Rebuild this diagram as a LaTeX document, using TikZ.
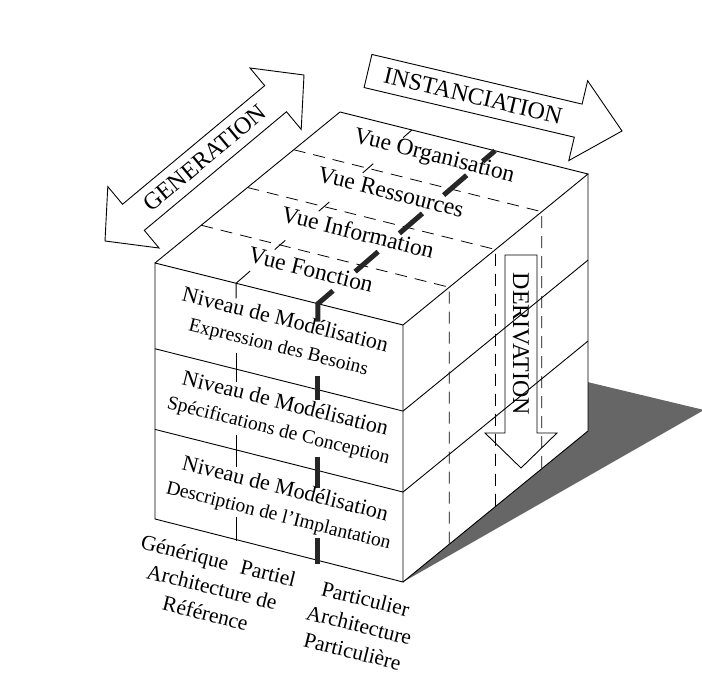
\documentclass[tikz,border=0pt]{standalone}
\usepackage{fontspec}
\setmainfont{Liberation Serif}
\usetikzlibrary{calc}

\newcommand{\sublevel}{\fontsize{19.5}{27}\selectfont}

\begin{document}
\begin{tikzpicture}[
    x=1pt, y=-1pt,
    line join=miter,
    cubeedge/.style={line width=0.9pt},
    viewline/.style={line width=0.8pt, dash pattern=on 12pt off 8pt},
    thintick/.style={line width=0.9pt},
    thickbar/.style={line width=5pt, black!85},
    facelabel/.style={font=\fontsize{22}{27}\selectfont, align=center, rotate=-14, inner sep=0pt},
    viewlabel/.style={facelabel, font=\fontsize{23.5}{27}\selectfont},
    arrowlabel/.style={font=\fontsize{24}{26}\selectfont, inner sep=0pt},
    blockarrow/.style={draw, line width=0.9pt}
]
\useasboundingbox (0,0) rectangle (702,695);

% -------------------------
% CUBE CORNERS
% -------------------------
\coordinate (ftl) at (155,263);
\coordinate (ftr) at (403,325);
\coordinate (fbr) at (403,582);
\coordinate (fbl) at (155,519);
\coordinate (btl) at (340,112);
\coordinate (btr) at (588,174);
\coordinate (bbr) at (588,431);

% shadow behind the right face
\coordinate (shadowTop) at ($(btr)!0.81!(bbr)$);
\coordinate (shadowTip) at (704,410);
\fill[black!60] (shadowTop) -- (shadowTip) -- (fbr) -- (bbr) -- cycle;

% -------------------------
% VIEWS (dashed layers)
% -------------------------
\foreach \t in {0.25,0.5,0.75}
  \draw[viewline] ($(ftl)!\t!(btl)$) -- ($(ftr)!\t!(btr)$) -- ($(fbr)!\t!(bbr)$);

% -------------------------
% EDGES AND LEVELS
% -------------------------
\draw[cubeedge] (ftl) -- (ftr) -- (fbr) -- (fbl) -- cycle;
\draw[cubeedge] (ftl) -- (btl) -- (btr) -- (ftr);
\draw[cubeedge] (btr) -- (bbr) -- (fbr);

\coordinate (lvlOneL) at ($(ftl)!0.335!(fbl)$);
\coordinate (lvlOneR) at ($(ftr)!0.335!(fbr)$);
\coordinate (lvlOneB) at ($(btr)!0.335!(bbr)$);
\coordinate (lvlTwoL) at ($(ftl)!0.65!(fbl)$);
\coordinate (lvlTwoR) at ($(ftr)!0.65!(fbr)$);
\coordinate (lvlTwoB) at ($(btr)!0.65!(bbr)$);
\draw[cubeedge] (lvlOneL) -- (lvlOneR) -- (lvlOneB);
\draw[cubeedge] (lvlTwoL) -- (lvlTwoR) -- (lvlTwoB);

% -------------------------
% COLUMNS (generique / partiel / particulier)
% -------------------------
\coordinate (colAf) at ($(ftl)!0.327!(ftr)$);
\coordinate (colAb) at ($(btl)!0.29!(btr)$);
\coordinate (colBf) at ($(ftl)!0.657!(ftr)$);
\coordinate (colBb) at ($(btl)!0.625!(btr)$);

% thin ticks
\foreach \ta/\tb in {0.22/0.28, 0.47/0.53, 0.72/0.78, 0.95/1}
  \draw[thintick] ($(colAf)!\ta!(colAb)$) -- ($(colAf)!\tb!(colAb)$);
\draw[thintick] ($(colAf)!0.08!(colAb)$) -- (colAf) -- ++(0,15);
\draw[thintick] ($(lvlOneL)!0.327!(lvlOneR)$) ++(0,-16) -- ++(0,29);
\draw[thintick] ($(lvlTwoL)!0.327!(lvlTwoR)$) ++(0,-15) -- ++(0,32);
\draw[thintick] ($(fbl)!0.327!(fbr)$) ++(0,-23) -- ++(0,24);

% thick bars
\foreach \ta/\tb in {0.21/0.34, 0.46/0.59, 0.71/0.84, 0.93/1}
  \draw[thickbar] ($(colBf)!\ta!(colBb)$) -- ($(colBf)!\tb!(colBb)$);
\draw[thickbar] ($(colBf)!0.085!(colBb)$) -- (colBf) -- ++(0,18);
\draw[thickbar] ($(lvlOneL)!0.657!(lvlOneR)$) ++(0,-14) -- ++(0,24);
\draw[thickbar] ($(lvlTwoL)!0.657!(lvlTwoR)$) ++(0,-14) -- ++(0,31);
\draw[thickbar] ($(fbl)!0.657!(fbr)$) ++(0,-22) -- ++(0,26);

% -------------------------
% BLOCK ARROWS
% -------------------------
% Instanciation (single head)
\coordinate (instTail) at (368,71);
\coordinate (instTip) at (622,131);
\coordinate (instBase) at ($(instTip)!45pt!(instTail)$);
\draw[blockarrow]
  ($(instTail)!17pt!90:(instTip)$) -- ($(instBase)!17pt!90:(instTip)$)
  -- ($(instBase)!41pt!90:(instTip)$) -- (instTip)
  -- ($(instBase)!41pt!-90:(instTip)$) -- ($(instBase)!17pt!-90:(instTip)$)
  -- ($(instTail)!17pt!-90:(instTip)$) -- cycle;

% Generation (double head)
\coordinate (genTipA) at (105,241);
\coordinate (genTipB) at (304,75);
\coordinate (genBaseA) at ($(genTipA)!37pt!(genTipB)$);
\coordinate (genBaseB) at ($(genTipB)!37pt!(genTipA)$);
\draw[blockarrow]
  (genTipA) -- ($(genBaseA)!40pt!90:(genTipB)$) -- ($(genBaseA)!17pt!90:(genTipB)$)
  -- ($(genBaseB)!17pt!-90:(genTipA)$) -- ($(genBaseB)!40pt!-90:(genTipA)$)
  -- (genTipB)
  -- ($(genBaseB)!40pt!90:(genTipA)$) -- ($(genBaseB)!17pt!90:(genTipA)$)
  -- ($(genBaseA)!17pt!-90:(genTipB)$) -- ($(genBaseA)!40pt!-90:(genTipB)$)
  -- cycle;

% Derivation (single head, downwards)
\coordinate (derTail) at (521,255);
\coordinate (derTip) at (521,468);
\coordinate (derBase) at ($(derTip)!35pt!(derTail)$);
\draw[blockarrow]
  ($(derTail)!16pt!90:(derTip)$) -- ($(derBase)!16pt!90:(derTip)$)
  -- ($(derBase)!36pt!90:(derTip)$) -- (derTip)
  -- ($(derBase)!36pt!-90:(derTip)$) -- ($(derBase)!16pt!-90:(derTip)$)
  -- ($(derTail)!16pt!-90:(derTip)$) -- cycle;

\node[arrowlabel, rotate=-13.3] (instLabel) at ($(instTail)!0.5!(instBase)$) {INSTANCIATION};
\node[arrowlabel, rotate=39.8] (genLabel) at ($(genTipA)!0.5!(genTipB)$) {GENERATION};
\node[arrowlabel, rotate=-90] (derLabel) at ($(derTail)!0.5!(derBase)$) {DERIVATION};

% -------------------------
% LABELS
% -------------------------
% views on the top face
\node[viewlabel] (vueOrga) at (434,157) {Vue Organisation};
\node[viewlabel] (vueRess) at (391,192) {Vue Ressources};
\node[viewlabel] (vueInfo) at (358,232) {Vue Information};
\node[viewlabel] (vueFonc) at (311,270) {Vue Fonction};

% modelling levels on the front face
\node[facelabel, xshift=2pt, yshift=3.5pt] (lvlExpr) at ($(ftl)!0.5!(lvlOneR)$)
  {Niveau de Modélisation\\\sublevel Expression des Besoins};
\node[facelabel, xshift=2pt, yshift=3.5pt] (lvlSpec) at ($(lvlOneL)!0.5!(lvlTwoR)$)
  {Niveau de Modélisation\\\sublevel Spécifications de Conception};
\node[facelabel, xshift=2pt, yshift=3.5pt] (lvlDesc) at ($(lvlTwoL)!0.5!(fbr)$)
  {Niveau de Modélisation\\\sublevel Description de l'Implantation};

% genericity below the cube
\node[facelabel, font=\fontsize{21.5}{27}\selectfont] (archRef) at (212,587)
  {Générique\hspace{0.6em}Partiel\\Architecture de\\Référence};
\node[facelabel, font=\fontsize{21.5}{27}\selectfont] (archPart) at (359,625)
  {Particulier\\Architecture\\Particulière};

\end{tikzpicture}
\end{document}
